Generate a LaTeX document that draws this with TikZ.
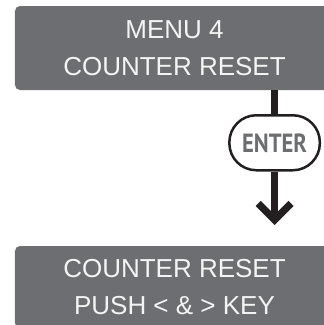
\documentclass[tikz,border=0pt]{standalone}
\usepackage{fontspec}
\usepackage{graphicx}
\setmainfont{Liberation Sans}
\newfontfamily\keyfont{PT Sans}
\definecolor{panelgray}{HTML}{6D6E71}
\definecolor{paneltext}{HTML}{F4F4F4}
\definecolor{ink}{HTML}{231F20}
\begin{document}
\begin{tikzpicture}[x=1bp,y=-1bp,
  panel/.style={rectangle, rounded corners=5bp, fill=panelgray, text=paneltext,
    inner sep=0pt, minimum width=319bp, minimum height=84bp, align=center,
    font=\fontsize{26bp}{36.7bp}\selectfont},
  keycap/.style={rectangle, rounded corners=27bp, draw=ink, line width=2.5bp,
    fill=white, minimum width=90.5bp, minimum height=55bp, inner sep=0pt,
    text=panelgray, font=\keyfont\bfseries\fontsize{26.3bp}{30bp}\selectfont},
  shaft/.style={draw=ink, line width=7.3bp, line cap=butt}]
\clip (0,0) rectangle (324,325);
% display panels
\node[panel] (menu) at (174.5,48) {MENU 4\\COUNTER RESET};
\node[panel, minimum height=82bp] (reset) at (174.5,287) {COUNTER RESET\\PUSH < \& > KEY};
% key and flow arrow
\node[keycap] (enter) at (274.6,142.75) {\resizebox{65bp}{\height}{ENTER}};
\coordinate (tip) at (274.6,212);
\draw[shaft] (enter.north |- menu.south) -- (enter.north);
\draw[shaft] (enter.south) -- (tip);
\fill[ink] ([shift={(0,13)}]tip) -- ([shift={(-19,-6)}]tip) -- ([shift={(-13.84,-11.16)}]tip)
  -- ([shift={(-3.65,-0.97)}]tip) -- ([shift={(3.65,-0.97)}]tip)
  -- ([shift={(13.84,-11.16)}]tip) -- ([shift={(19,-6)}]tip) -- cycle;
\end{tikzpicture}
\end{document}
